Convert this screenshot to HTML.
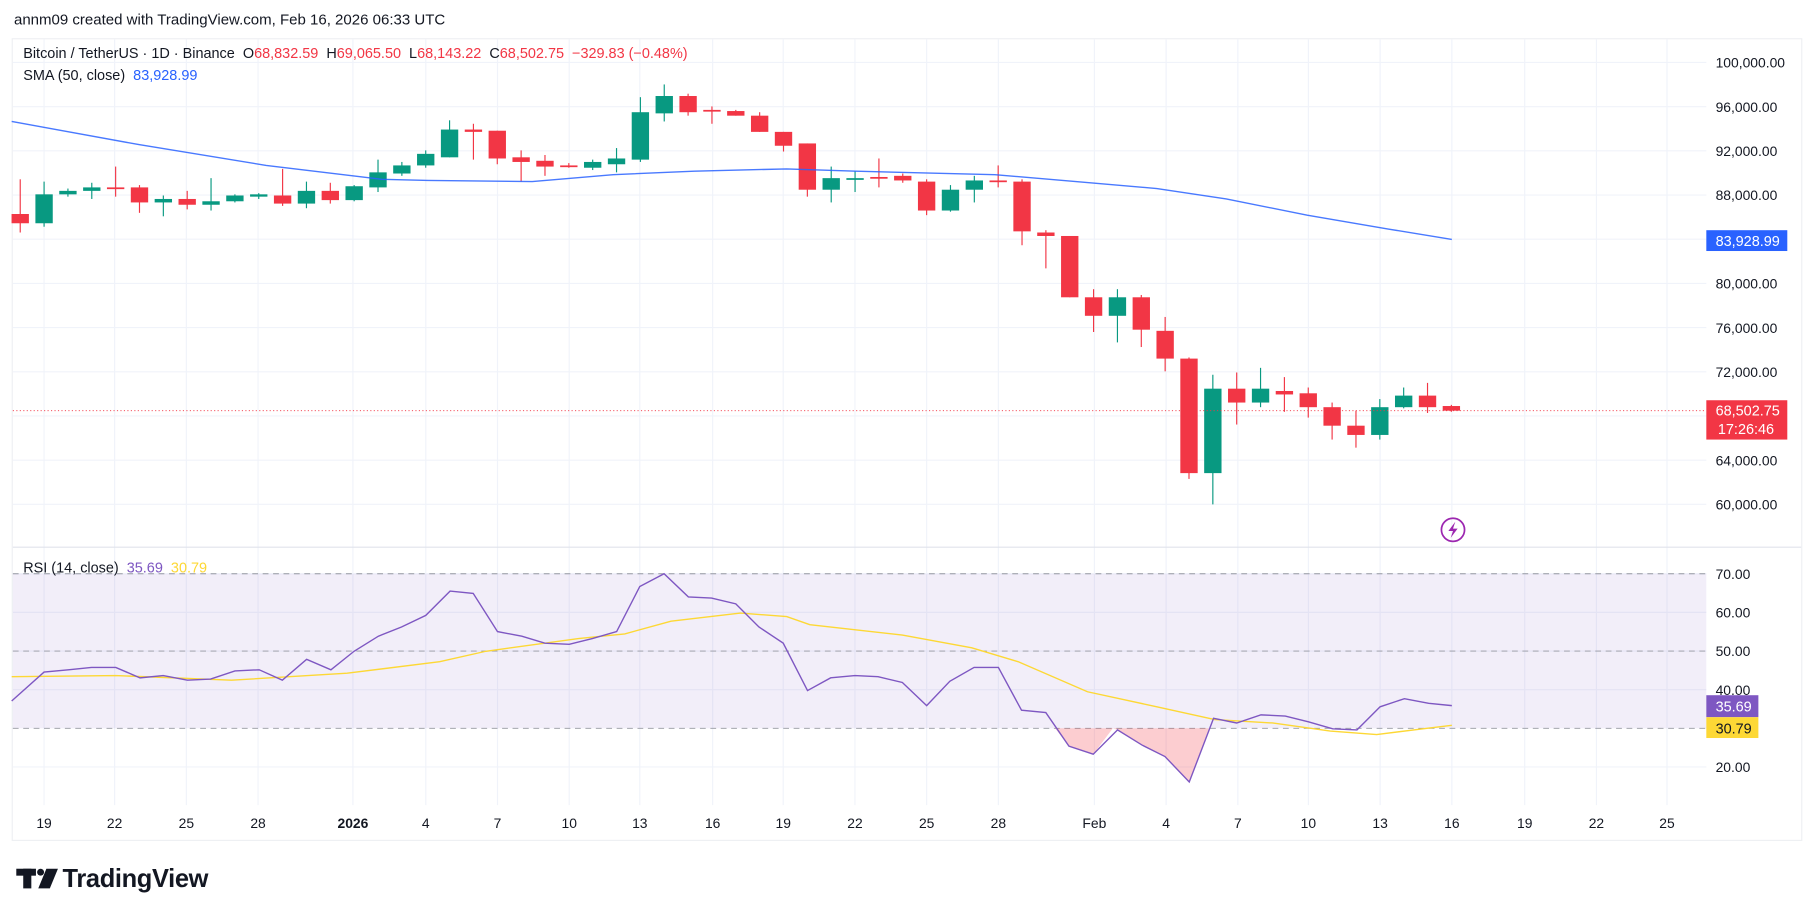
<!DOCTYPE html>
<html><head><meta charset="utf-8"><style>
html,body{margin:0;padding:0;background:#fff;overflow:hidden}
svg{display:block;font-family:"Liberation Sans",sans-serif}
</style></head><body>
<svg id="s" width="1814" height="915" viewBox="0 0 1568 791" xmlns="http://www.w3.org/2000/svg">
<rect width="1568" height="791" fill="#fff"/>
<text x="12" y="21" font-size="13" fill="#131722">annm09 created with TradingView.com, Feb 16, 2026 06:33 UTC</text>
<rect x="10.5" y="33.5" width="1547" height="693" fill="#fff" stroke="#eef0f3"/>
<g id="grid" stroke="#f0f3fa" stroke-width="1"></g>
<rect x="11" y="496" width="1464" height="133.6" fill="#7e57c2" fill-opacity="0.1"/>
<g stroke="#9598a1" stroke-dasharray="5,4" stroke-width="0.8">
<line x1="11" x2="1475" y1="496" y2="496"/><line x1="11" x2="1475" y1="562.8" y2="562.8"/><line x1="11" x2="1475" y1="629.6" y2="629.6"/>
</g>
<line x1="11" x2="1557" y1="473" y2="473" stroke="#e0e3eb"/>
<g id="c"></g>
<polyline id="sma" fill="none" stroke="#2962ff" stroke-width="1.2" stroke-opacity="0.85"/>
<path id="rf" fill="#f23645" fill-opacity="0.25"/>
<polyline id="rma" fill="none" stroke="#fdd835" stroke-width="1.2"/>
<polyline id="rsi" fill="none" stroke="#7e57c2" stroke-width="1.2"/>
<line x1="11" x2="1475" y1="355" y2="355" stroke="#f23645" stroke-dasharray="1,2" stroke-width="0.8"/>
<g font-size="12" fill="#131722" id="ax"></g>
<text x="20" y="50" font-size="12.5" fill="#131722" xml:space="preserve">Bitcoin / TetherUS · 1D · Binance  <tspan fill="#131722">O</tspan><tspan fill="#f23645">68,832.59</tspan>  <tspan fill="#131722">H</tspan><tspan fill="#f23645">69,065.50</tspan>  <tspan fill="#131722">L</tspan><tspan fill="#f23645">68,143.22</tspan>  <tspan fill="#131722">C</tspan><tspan fill="#f23645">68,502.75  −329.83 (−0.48%)</tspan></text>
<text x="20" y="69" font-size="12.5" fill="#131722" xml:space="preserve">SMA (50, close)  <tspan fill="#2962ff">83,928.99</tspan></text>
<text x="20" y="495" font-size="12.5" fill="#131722" xml:space="preserve">RSI (14, close)  <tspan fill="#7e57c2">35.69</tspan>  <tspan fill="#fdd835">30.79</tspan></text>
<rect x="1475" y="199" width="70" height="18" fill="#2962ff"/><text x="1483" y="212.5" font-size="12.5" fill="#fff">83,928.99</text>
<rect x="1475" y="346" width="70" height="34" fill="#f23645"/><text x="1483" y="359" font-size="12.5" fill="#fff">68,502.75</text><text x="1485" y="375" font-size="12.5" fill="#fff">17:26:46</text>
<rect x="1475" y="601" width="45" height="19" fill="#7e57c2"/><text x="1483" y="615" font-size="12.5" fill="#fff">35.69</text>
<rect x="1475" y="620" width="45" height="18" fill="#fdd835"/><text x="1483" y="634" font-size="12.5" fill="#131722">30.79</text>
<circle cx="1256" cy="458" r="10" fill="none" stroke="#9c27b0" stroke-width="1.5"/><path d="M1258 451 L1252 459 L1256 459 L1254 465 L1260 457 L1256 457Z" fill="#9c27b0"/>
<g fill="#131722"><rect x="14" y="751" width="17" height="6"/><rect x="20" y="751" width="7" height="17"/><circle cx="35" cy="754" r="3"/><path d="M40 751 L50 751 L43 768 L33 768Z"/></g>
<text x="54" y="767" font-size="22" font-weight="bold" fill="#131722" letter-spacing="-0.3">TradingView</text>
</svg>
<script>
const NS="http://www.w3.org/2000/svg";
function el(p,t,a,txt){const e=document.createElementNS(NS,t);for(const k in a)e.setAttribute(k,a[k]);if(txt!==undefined)e.textContent=txt;document.getElementById(p).appendChild(e);return e;}
const xl=[[38,"19"],[99,"22"],[161,"25"],[223,"28"],[305,"2026"],[368,"4"],[430,"7"],[492,"10"],[553,"13"],[616,"16"],[677,"19"],[739,"22"],[801,"25"],[863,"28"],[946,"Feb"],[1008,"4"],[1070,"7"],[1131,"10"],[1193,"13"],[1255,"16"],[1318,"19"],[1380,"22"],[1441,"25"]];
xl.forEach(([x,t])=>{el("grid","line",{x1:x,x2:x,y1:34,y2:696});const a={x:x,y:716,"text-anchor":"middle"};if(t=="2026")a["font-weight"]="bold";el("ax","text",a,t);});
for(let i=0;i<=10;i++){const y=54+i*38.2;el("grid","line",{x1:11,x2:1475,y1:y,y2:y});if(i==4)continue;el("ax","text",{x:1483,y:y+4.5},(100-4*i)+",000.00");}
[70,60,50,40,20].forEach(r=>{const y=663-(r-20)*3.34;el("grid","line",{x1:11,x2:1475,y1:y,y2:y});el("ax","text",{x:1483,y:y+4.5},r+".00");});
const C=[[185,193,155,201,0],[193,168,157,196,1],[168,165,163,170,1],[165,162,158,172,1],[162,163,144,170,0],[162,175,160,184,0],[175,172,169,187,1],[172,177,165,181,0],[177,174,154,182,1],[174,169,168,175,1],[170,168,167,172,1],[169,176,146,178,0],[176,165,157,180,1],[165,173,158,176,0],[173,161,160,174,1],[162,149,138,166,1],[150,143,140,152,1],[143,133,130,145,1],[136,112,104,136,1],[112,114,107,138,0],[113,137,113,142,0],[136,140,130,157,0],[139,144,134,152,0],[143,144,141,145,0],[145,140,138,147,1],[142,137,128,149,1],[138,97,84,140,1],[98,83,73,105,1],[83,97,81,100,0],[95,96,92,107,0],[96,100,95,100,0],[100,114,97,114,0],[114,126,114,131,0],[124,164,124,170,0],[164,154,144,175,1],[155,154,148,166,1],[153,154,137,162,0],[152,156,150,158,0],[157,182,155,186,0],[182,164,160,183,1],[164,156,152,175,1],[156,157,143,162,0],[157,200,155,212,0],[201,204,199,232,0],[204,257,204,257,0],[257,273,250,287,0],[273,257,250,296,1],[257,285,255,300,0],[286,310,274,321,0],[310,409,309,414,0],[409,336,324,436,1],[336,348,322,367,0],[348,336,318,352,1],[338,341,326,356,0],[340,352,335,361,0],[352,368,348,380,0],[368,376,355,387,0],[376,352,345,380,1],[352,342,335,353,1],[342,352,331,357,0],[351,355,350,356,0]];
C.forEach((c,i)=>{const x=17.4+i*20.62;const col=c[4]?"#089981":"#f23645";el("c","line",{x1:x,x2:x,y1:c[2],y2:c[3],stroke:col,"stroke-width":1});const t=Math.min(c[0],c[1]),h=Math.max(1.5,Math.abs(c[0]-c[1]));el("c","rect",{x:x-7.5,y:t,width:15,height:h,fill:col});});
document.getElementById("sma").setAttribute("points","10,105 120,125 230,143 330,155 370,156 460,157 530,151 600,148 680,146 740,148 860,151 930,157 1000,163 1060,172 1130,186 1200,198 1255,207");
const R=[[10,606],[38,581],[59,579],[79,577],[100,577],[121,586],[141,584],[162,588],[182,587],[203,580],[224,579],[244,588],[265,570],[286,579],[306,563],[327,550],[347,542],[368,532],[389,511],[409,513],[430,546],[451,550],[471,556],[492,557],[512,552],[533,546],[553,507],[574,496],[595,516],[615,517],[636,522],[656,542],[677,556],[698,597],[718,586],[739,584],[759,585],[780,590],[801,610],[821,589],[842,577],[863,577],[883,614],[904,616],[924,645],[945,652],[966,631],[987,644],[1007,654],[1028,676],[1049,621],[1069,625],[1090,618],[1111,619],[1131,624],[1152,630],[1173,631],[1193,611],[1214,604],[1235,608],[1255,610]];
document.getElementById("rsi").setAttribute("points",R.map(p=>p.join(",")).join(" "));
document.getElementById("rf").setAttribute("d","M912,629.6 L924,645 L945,652 L962,629.6 L966,631 L987,644 L1007,654 L1028,676 L1045,629.6Z");
document.getElementById("rma").setAttribute("points","10,585 100,584 200,588 300,582 380,572 420,563 500,552 540,548 580,537 640,530 680,533 700,540 780,549 840,560 880,572 940,598 1000,611 1050,622 1100,625 1150,632 1190,635 1230,630 1255,627");
</script>
</body></html>
